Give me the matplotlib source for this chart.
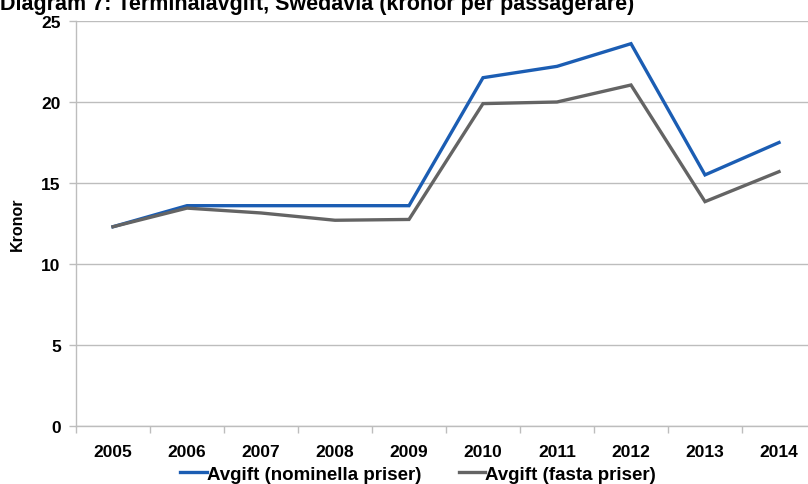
import matplotlib
matplotlib.use("Agg")
import matplotlib.pyplot as plt
from matplotlib.ticker import FixedLocator, NullFormatter

plt.rcParams['font.family'] = ['Liberation Sans', 'DejaVu Sans']

years = ["2005", "2006", "2007", "2008", "2009", "2010", "2011", "2012", "2013", "2014"]
nominal = [12.3, 13.6, 13.6, 13.6, 13.6, 21.5, 22.2, 23.6, 15.5, 17.5]
fixed = [12.3, 13.45, 13.15, 12.7, 12.75, 19.9, 20.0, 21.05, 13.85, 15.7]
y_ticks = [0, 5, 10, 15, 20, 25]

title = "Diagram 7: Terminalavgift, Swedavia (kronor per passagerare)"
label_nominal = "Avgift (nominella priser)"
label_fixed = "Avgift (fasta priser)"

fig = plt.figure(figsize=(8.08, 4.85), dpi=100)
ax = fig.add_axes([76 / 808, 58 / 485, 740 / 808, 405 / 485])

x = list(range(len(years)))
ax.plot(x, nominal, color="#1b5db3", lw=2.4, solid_joinstyle="miter", label=label_nominal, zorder=3)
ax.plot(x, fixed, color="#646464", lw=2.4, solid_joinstyle="miter", label=label_fixed, zorder=3)

ax.set_xlim(-0.5, len(years) - 0.5)
ax.set_ylim(0, 25)

grid_c = "#bdbdbd"
ax.set_yticks(y_ticks)
ax.set_yticklabels([str(v) for v in y_ticks], fontsize=12.5, fontweight="bold")
ax.yaxis.grid(True, color=grid_c, lw=1.0)
ax.set_axisbelow(True)

ax.set_xticks(x)
ax.set_xticklabels(years, fontsize=12.5, fontweight="bold")
ax.tick_params(axis="x", which="major", length=0, pad=13)
ax.xaxis.set_minor_locator(FixedLocator([i - 0.5 for i in range(len(years) + 1)]))
ax.xaxis.set_minor_formatter(NullFormatter())
ax.tick_params(axis="x", which="minor", length=5, color=grid_c, width=1.0)
ax.tick_params(axis="y", length=5, color=grid_c, width=1.0, pad=6)

for side in ("top", "right"):
    ax.spines[side].set_visible(False)
for side in ("left", "bottom"):
    ax.spines[side].set_color(grid_c)
    ax.spines[side].set_linewidth(1.0)

ax.set_ylabel("Kronor", fontsize=11.5, fontweight="bold", labelpad=12)

leg = fig.legend(loc="center", bbox_to_anchor=(418 / 808, 1 - 475 / 485), ncol=2, frameon=False,
                 handlelength=1.4, handletextpad=0.0, columnspacing=2.0,
                 prop={"size": 13.5, "weight": "bold"})

fig.text(0.0, 1 - 10 / 485, title, fontsize=15.5, fontweight="bold", ha="left", va="baseline")

fig.savefig("out.png", dpi=100)
